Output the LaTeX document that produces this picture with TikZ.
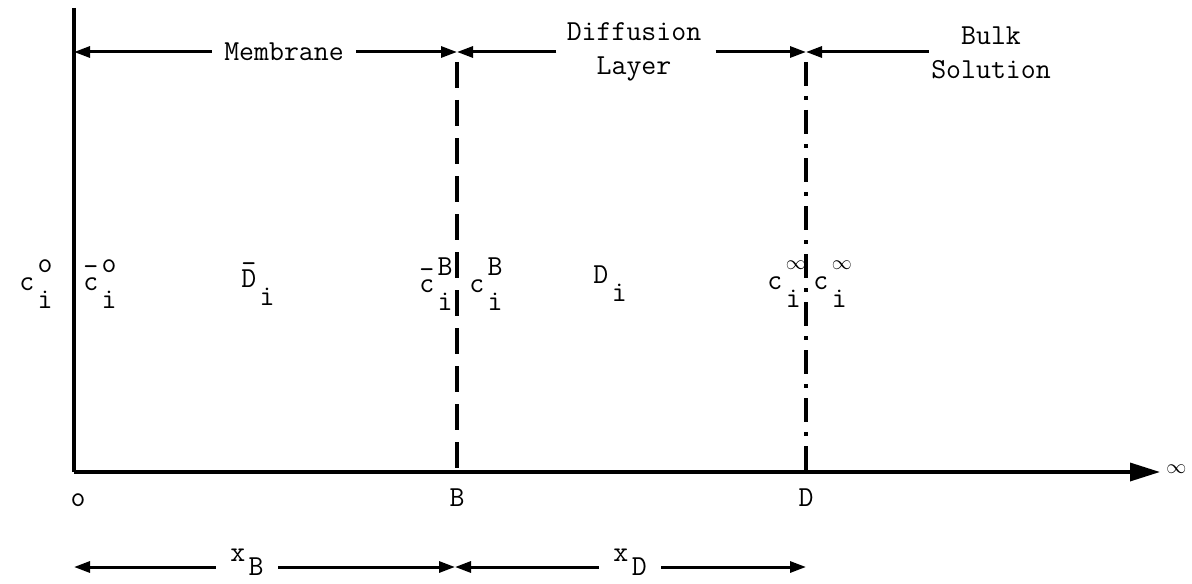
\documentclass[tikz,border=0pt]{standalone}
\usetikzlibrary{arrows.meta,positioning}

% typed concentration symbol: base, superscript, subscript stacked
\newcommand{\twsym}[3]{#1\hspace{.12em}\rlap{\raisebox{.6em}{#2}}\raisebox{-.62em}{#3}}
\newcommand{\twsub}[2]{#1\hspace{.12em}\raisebox{-.5em}{#2}}
\newcommand{\twbar}[1]{\rlap{\raisebox{.5em}{-}}#1}
\newcommand{\twinf}{\raisebox{.1em}{$\scriptstyle\infty$}}

\tikzset{
  lbl/.style={font=\ttfamily\fontsize{14.5}{17}\selectfont, inner sep=1pt},
  axisline/.style={line width=1.7pt},
  dimarrow/.style={line width=1.5pt, -{Triangle[length=8pt,width=5.5pt]}},
}

\begin{document}
\begin{tikzpicture}[x=0.5pt,y=-0.5pt]
  \useasboundingbox (0,0) rectangle (1192,583);

  % axes
  \coordinate (O) at (74,472);
  \coordinate (ytop) at (74,8);
  \coordinate (xend) at (1160,472);
  \draw[axisline] (ytop) -- (O);
  \draw[axisline, -{Triangle[length=15pt,width=9pt]}] (O) -- (xend);
  \node[lbl, anchor=west] (inf) at (1164,469) {$\scriptstyle\infty$};

  % boundaries
  \coordinate (Btop) at (457,52);
  \coordinate (Bbot) at (457,472);
  \coordinate (Dtop) at (806,52);
  \coordinate (Dbot) at (806,472);
  \draw[line width=2pt, dash pattern=on 13pt off 6pt, dash phase=-5pt] (Btop) -- (Bbot);
  \draw[line width=2pt, dash pattern=on 12pt off 5pt on 2pt off 5pt, dash phase=-5pt] (Dtop) -- (Dbot);

  % regions along the top
  \node[lbl] (membrane) at (284,52) {Membrane};
  \node[lbl, align=center] (diffusion) at (634,52) {Diffusion\\Layer};
  \node[lbl, align=center] (bulk) at (991,53) {Bulk\\Solution};
  \draw[dimarrow] ([xshift=-5pt]membrane.west) -- (ytop |- Btop);
  \draw[dimarrow] ([xshift=5pt]membrane.east) -- (Btop);
  \draw[dimarrow] ([xshift=-4pt]diffusion.west |- Btop) -- (Btop);
  \draw[dimarrow] ([xshift=6pt]diffusion.east |- Btop) -- (Dtop);
  \draw[dimarrow] (bulk.west |- Btop) -- (Dtop);

  % concentrations and diffusivities
  \node[lbl] (c0) at (36,284) {\twsym{c}{o}{i}};
  \node[lbl] (cb0) at (100,284) {\twsym{\twbar{c}}{o}{i}};
  \node[lbl] (Db) at (258,284) {\twsym{\twbar{D}}{}{i}};
  \node[lbl] (cbB) at (436,284) {\twsym{\twbar{c}}{B}{i}};
  \node[lbl] (cB) at (486,284) {\twsym{c}{B}{i}};
  \node[lbl] (Dd) at (610,284) {\twsym{D}{}{i}};
  \node[lbl] (cinf1) at (784,284) {\twsym{c}{\twinf}{i}};
  \node[lbl] (cinf2) at (830,284) {\twsym{c}{\twinf}{i}};

  % positions on the axis
  \node[lbl] (o) at (78,500) {o};
  \node[lbl] (B) at (457,498) {B};
  \node[lbl] (D) at (806,498) {D};

  % thicknesses
  \coordinate (xB0) at (74,567);
  \coordinate (xB1) at (455,567);
  \coordinate (xD1) at (806,567);
  \node[lbl] (xB) at (247,562) {\twsub{x}{B}};
  \node[lbl] (xD) at (630,562) {\twsub{x}{D}};
  \draw[dimarrow] ([xshift=-6pt]xB.west |- xB0) -- (xB0);
  \draw[dimarrow] ([xshift=6pt]xB.east |- xB0) -- (xB1);
  \draw[dimarrow] ([xshift=-6pt]xD.west |- xB0) -- (xB1);
  \draw[dimarrow] ([xshift=6pt]xD.east |- xB0) -- (xD1);
\end{tikzpicture}
\end{document}
